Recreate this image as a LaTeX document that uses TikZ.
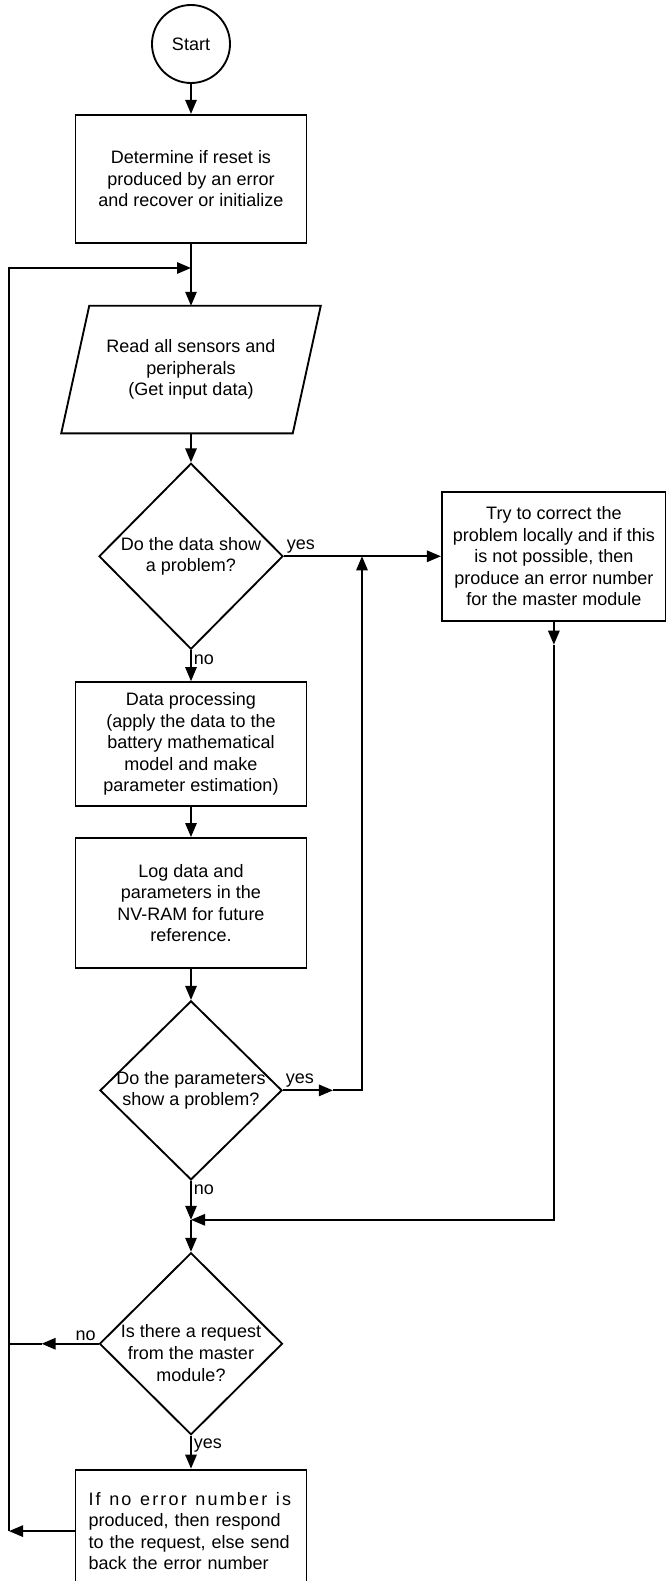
\documentclass[tikz,border=0pt]{standalone}
\usepackage{fontspec}
\setmainfont{Liberation Sans}
\usepackage{tikz}
\usetikzlibrary{positioning,arrows.meta,shapes.geometric,calc}
\usepackage{xcolor}
\definecolor{fcblack}{HTML}{000000}

\begin{document}
\begin{tikzpicture}[x=0.75pt,y=-0.75pt,
          font=\fontsize{13.5}{16.2}\selectfont,
          term/.style={draw=fcblack,line width=1.4pt,circle,minimum size=58.5pt,inner sep=0pt},
          box/.style={draw=fcblack,line width=1.4pt,minimum width=173.25pt,align=center,inner sep=2pt},
          io/.style={minimum width=173.25pt,minimum height=95.25pt,align=center,inner sep=2pt},
          decision/.style={draw=fcblack,line width=1.4pt,diamond,inner sep=0pt},
          arr/.style={-{Triangle[length=10.5pt,width=8.5pt]},line width=1.4pt,fcblack},
          lbl/.style={inner sep=1.5pt}]
        \useasboundingbox (0,0) rectangle (665,1581);
        \node[term] (start) at (191,44) {Start};
        \node[box,minimum height=96pt,below=22.5pt of start] (init) {Determine if reset is\\produced by an error\\and recover or initialize};
        \node[io,below=46.5pt of init] (read) {Read all sensors and\\peripherals\\(Get input data)};
        \draw[line width=1.4pt,fcblack] ([xshift=10.5pt]read.north west) -- ([xshift=10.5pt]read.north east)
              -- ([xshift=-10.5pt]read.south east) -- ([xshift=-10.5pt]read.south west) -- cycle;
        \node[decision,minimum width=138pt,minimum height=139.5pt,below=21.75pt of read,
              label={[align=center]center:Do the data show\\a problem?}] (chk) {};
        \node[box,minimum height=93pt,below=23.25pt of chk] (proc) {Data processing\\(apply the data to the\\battery mathematical\\model and make\\parameter estimation)};
        \node[box,minimum height=97.5pt,below=22.5pt of proc] (logd) {Log data and\\parameters in the\\NV-RAM for future\\reference.};
        \node[decision,minimum width=136.5pt,minimum height=134.25pt,below=23.25pt of logd,
              label={[align=center]center:Do the parameters\\show a problem?}] (chkpar) {};
        \node[decision,minimum width=137.25pt,minimum height=136.5pt,below=53.25pt of chkpar,
              label={[align=center,yshift=-7pt]center:Is there a request\\from the master\\module?}] (ask) {};
        \node[box,minimum height=92.25pt,text width=153.75pt,align=left,below=24.75pt of ask] (reply)
              {{\addfontfeature{LetterSpace=12}\spaceskip=6.5pt If no error number is}\\produced, then respond\\to the request, else send\\back the error number};
        \node[box,minimum width=168pt,minimum height=96.75pt,right=117.75pt of chk] (fix)
              {Try to correct the\\problem locally and if this\\is not possible, then\\produce an error number\\for the master module};
        \coordinate (loopx) at (9,268);
        \coordinate (midx) at (362,0);
        \coordinate (jn) at ([yshift=-29.25pt]chkpar.south);
        % main column
        \draw[arr] (start) -- (init);
        \draw[arr] (init) -- (read);
        \draw[arr] (read) -- (chk);
        \draw[arr] (chk) -- node[lbl,pos=0.3,right]{no} (proc);
        \draw[arr] (proc) -- (logd);
        \draw[arr] (logd) -- (chkpar);
        \draw[arr] (chkpar.south) -- node[lbl,pos=0.22,right]{no} (jn);
        \draw[arr] (jn) -- (ask.north);
        \draw[arr] (ask.south) -- node[lbl,pos=0.3,right]{yes} (reply.north);
        % problem branch
        \draw[arr] (chk.east) -- node[lbl,pos=0,anchor=south west]{yes} (chk.east -| fix.west);
        \draw[arr] (chkpar.east) -- node[lbl,pos=0,anchor=south west]{yes} ++(50,0) coordinate (pend);
        \draw[arr] (pend) -- (pend -| midx) -- (chk.east -| midx);
        \draw[arr] (fix.south) -- ++(0,23) coordinate (fend);
        \draw[arr] (fend) |- (jn);
        % back to reading
        \draw[arr] (ask.west) -- node[lbl,pos=0,anchor=south east]{no} ++(-57,0) coordinate (aend);
        \draw[line width=1.4pt,fcblack] (aend) -- (aend -| loopx);
        \draw[arr] (reply.west) -- (reply.west -| loopx);
        \draw[arr] (reply.west -| loopx) -- (loopx) -- (loopx -| read.north);
      \end{tikzpicture}
\end{document}
